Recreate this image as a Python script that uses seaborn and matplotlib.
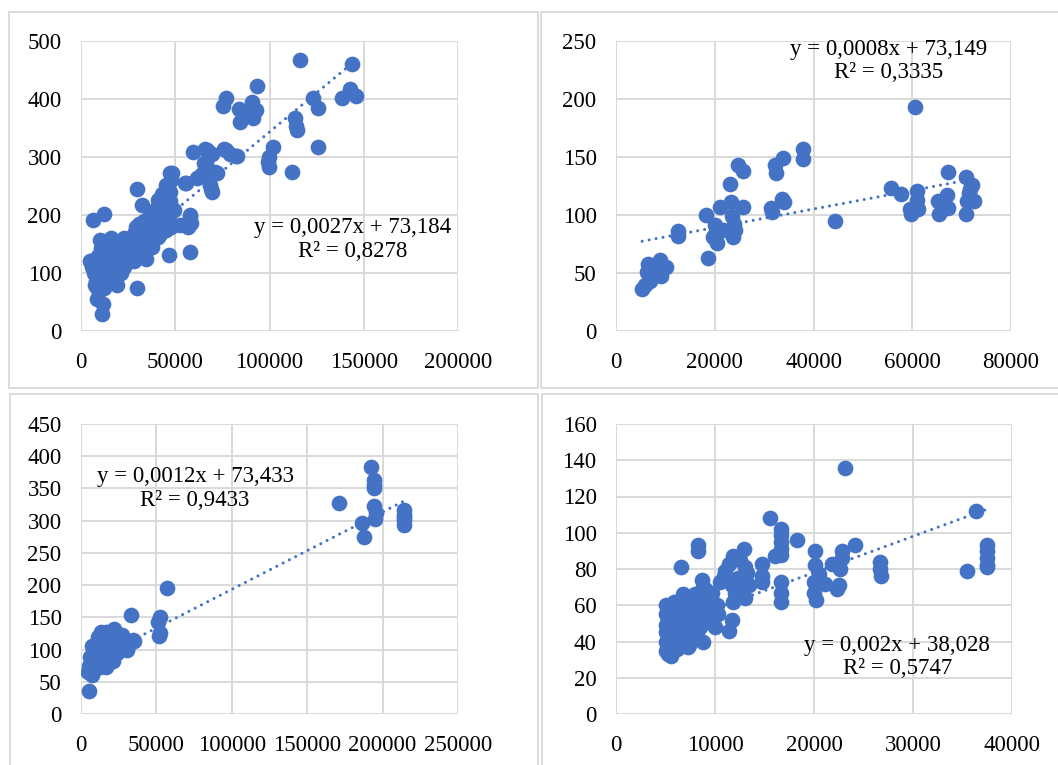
import numpy as np
import pandas as pd
import matplotlib
matplotlib.use("Agg")
import matplotlib.pyplot as plt
from matplotlib.patches import Rectangle
import seaborn as sns

sns.set_theme(style="white")
plt.rcParams['font.family'] = ['Liberation Serif', 'DejaVu Serif']

BLUE = "#4472C4"
GRID = "#D9D9D9"

# ---------------- Panel 1 ----------------
p1_x = [116100, 143800, 93300, 76700, 75400, 83800, 84300, 90500, 93100, 91400, 87800,
        142600, 146100, 138200, 123200, 125800, 113400, 114300, 114800, 125800, 111700,
        102000, 99800, 99800, 99300, 82900, 76900, 79000, 59500, 66600, 69300, 65200,
        64000, 61300, 71900, 68700, 69300, 55500, 48100, 57800, 58300, 57800, 46600,
        52500, 29500, 32200, 29500, 12200, 6500, 5300, 10100, 10400, 16300, 8300, 11800,
        11000, 18900, 65900, 75600, 82400, 66200, 71300, 62800, 68800, 55100, 47400,
        44900, 43200, 45700, 40600, 49100, 57700, 56900, 34600, 15900, 4800,
        8000, 9000, 9500, 10000, 10500, 11000, 11500, 12000, 12000, 12500, 13000, 13500,
        14000, 14000, 14500, 15000, 15500, 16000, 16000, 16500, 17000, 17500, 18000,
        18000, 18500, 19000, 19500, 20000, 20000, 20500, 21000, 21500, 22000, 22500,
        23000, 23000, 24000, 24500, 25000, 25500, 26000, 26500, 27000, 27500, 28000,
        28500, 29000, 29000, 30000, 30500, 31000, 31500, 32000, 32500, 33000, 33500,
        34000, 34500, 35000, 35500, 36000, 36500, 37000, 37500, 38000, 38500, 39000,
        40000, 40000, 41000, 41500, 42000, 42500, 43000, 43500, 44000, 44500, 45000,
        45500, 46000, 46500, 47000, 47500, 48000, 48000,
        6000, 7000, 7500, 8500, 9000, 10000, 12000, 13000,
        22000, 24000, 26000, 28000, 30000, 32000, 34000, 36000, 38000, 40000, 42000,
        44000, 46000, 25000, 29000, 33000, 37000, 41000, 45000, 17000, 19000, 21000,
        35000, 39000, 43000, 47000, 31000, 27000, 23000]
p1_y = [468, 460, 423, 401, 388, 383, 361, 395, 381, 367, 375,
        418, 406, 401, 401, 384, 367, 353, 346, 317, 274,
        318, 300, 283, 292, 302, 312, 306, 309, 312, 305, 289,
        271, 263, 272, 252, 239, 255, 272, 200, 187, 137, 131,
        182, 245, 217, 74, 202, 191, 120, 157, 143, 157, 56, 47,
        30, 79, 313, 313, 302, 289, 274, 265, 245, 255, 273,
        252, 237, 226, 226, 208, 197, 180, 125, 160, 120,
        95, 110, 85, 100, 120, 90, 105, 80, 130, 95, 115, 88,
        100, 125, 110, 92, 135, 105, 118, 85, 100, 128, 112,
        140, 95, 120, 105, 130, 145, 115, 100, 138, 125, 150,
        110, 160, 132, 145, 120, 155, 140, 128, 162, 148, 135,
        170, 155, 180, 142, 165, 185, 150, 172, 138, 160, 190,
        148, 175, 165, 185, 155, 200, 170, 145, 180, 195, 162,
        210, 175, 188, 220, 168, 200, 185, 230, 195, 240, 175,
        210, 250, 190, 225, 205, 260, 180,
        110, 100, 80, 75, 130, 70, 75, 140,
        118, 128, 150, 120, 158, 145, 168, 145, 160, 190, 185,
        175, 200, 138, 132, 178, 158, 162, 185, 112, 108, 122,
        140, 172, 210, 240, 160, 150, 140]

# ---------------- Panel 2 ----------------
p2_x = [5300, 5900, 6900, 6500, 6200, 6900, 8900, 9100, 10100, 8200, 12600, 12600,
        18200, 18700, 20000, 20000, 19700, 20400, 21100, 23100, 23300, 23400, 23800,
        23600, 24000, 24800, 25700, 25800, 21700, 31400, 31500, 32300, 32500, 33900,
        33700, 34100, 37900, 37900, 44300, 55700, 57700, 60500, 60900, 60900, 59700,
        61200, 59500, 65300, 65400, 67200, 67000, 67300, 66300, 70900, 70900, 72000,
        71400, 71000, 72600, 71700]
p2_y = [36, 40, 43, 58, 51, 50, 61, 47, 55, 55, 86, 82,
        100, 63, 91, 84, 81, 76, 107, 127, 111, 99, 92,
        81, 87, 143, 138, 107, 87, 106, 103, 143, 136, 149,
        114, 111, 157, 148, 95, 123, 118, 193, 121, 113, 101,
        105, 105, 112, 101, 137, 117, 106, 110, 133, 101, 126,
        119, 112, 112, 122]

# ---------------- Panel 3 ----------------
p3_x = [192500, 194300, 194300, 194300, 171200, 194300, 195000, 186600, 187700,
        214100, 214100, 214100, 214100, 214100, 195500,
        57100, 33000, 52200, 51100, 51800, 52200, 34600, 30200, 5500,
        13500, 22100, 27500, 35000, 30700, 7100, 6000, 4900, 7100, 16700, 21000,
        10300, 14600, 17800, 23200, 18900, 10300, 12400, 8100, 25300, 15700, 21000,
        11400, 16700, 9000, 12000, 19500, 26000, 5500, 8500, 14000, 24000]
p3_y = [384, 363, 355, 350, 328, 322, 303, 296, 275,
        316, 309, 301, 293, 306, 312,
        195, 154, 151, 143, 121, 125, 115, 99, 36,
        127, 132, 122, 114, 101, 106, 88, 65, 60, 73, 83,
        98, 109, 93, 104, 116, 83, 73, 78, 114, 83, 96,
        119, 127, 92, 110, 88, 110, 75, 68, 78, 95]

# ---------------- Panel 4 ----------------
p4_x = [23100, 36400, 15600, 16700, 16700, 16700, 16700, 16700, 16100, 18300, 20100,
        22800, 24100, 8300, 8300, 12900, 14700, 14700, 14700, 16700, 16700, 16700,
        6600, 20100, 20500, 20000, 20000, 20200, 21100, 21800, 22600, 22500, 22300,
        22800, 26700, 26700, 26800, 35500, 37500, 37500, 37500, 37500, 37500,
        11400, 11800, 13000, 10900, 11700, 12000, 11800, 13000, 12700, 13400, 11700,
        11400, 10200, 10000, 8700, 9000, 9700, 8800, 7000, 6600, 7300, 5600,
        5100, 5100, 5100, 5100, 5100, 5100, 5300,
        5500, 5500, 6000, 6000, 6000, 6500, 6500, 6500, 7000, 7000, 7000, 7500, 7500,
        7500, 8000, 8000, 8000, 8500, 8500, 8500, 9000, 9000, 9500, 9500, 9800, 9200,
        8800, 7800, 6200, 5800, 5300, 5300, 6800, 10500, 11000, 12300, 12500, 13200,
        5700, 6300, 6700, 7200, 7700, 8200, 5900, 6400, 6900, 7400, 5400, 9300, 10300]
p4_y = [136, 112, 108, 102, 99, 95, 91, 88, 87, 96, 90,
        90, 93, 93, 90, 91, 83, 76, 73, 73, 67, 62,
        81, 82, 77, 73, 67, 63, 72, 83, 80, 71, 69,
        86, 84, 80, 76, 79, 93, 90, 86, 82, 81,
        83, 87, 81, 76, 71, 67, 62, 64, 71, 71, 52,
        46, 60, 48, 74, 69, 67, 40, 64, 56, 37, 32,
        60, 55, 49, 45, 40, 35, 33,
        42, 50, 38, 47, 55, 43, 52, 60, 40, 48, 57, 45, 53,
        62, 50, 58, 66, 48, 55, 63, 52, 60, 55, 64, 58, 66,
        70, 44, 36, 58, 52, 38, 66, 73, 79, 75, 85, 78,
        45, 41, 49, 52, 41, 45, 62, 56, 44, 38, 56, 58, 55]

# trendline equations as printed on the chart
slopes = [0.0027, 0.0008, 0.0012, 0.002]
intercepts = [73.184, 73.149, 73.433, 38.028]
eq_texts = ["y = 0,0027x + 73,184\nR² = 0,8278",
            "y = 0,0008x + 73,149\nR² = 0,3335",
            "y = 0,0012x + 73,433\nR² = 0,9433",
            "y = 0,002x + 38,028\nR² = 0,5747"]
eq_pos = [(144300, 158), (55300, 233), (75600, 350), (28400, 31.4)]

x_ticks = [[0, 50000, 100000, 150000, 200000],
           [0, 20000, 40000, 60000, 80000],
           [0, 50000, 100000, 150000, 200000, 250000],
           [0, 10000, 20000, 30000, 40000]]
y_ticks = [[0, 100, 200, 300, 400, 500],
           [0, 50, 100, 150, 200, 250],
           [0, 50, 100, 150, 200, 250, 300, 350, 400, 450],
           [0, 20, 40, 60, 80, 100, 120, 140, 160]]

xs = [p1_x, p2_x, p3_x, p4_x]
ys = [p1_y, p2_y, p3_y, p4_y]

W, H = 1058, 765
fig = plt.figure(figsize=(W / 100, H / 100), dpi=100)

# panel frames (pixel coords: x0, y0_top, x1, y1_bottom)
frames = [(9, 12, 538, 388), (541, 12, 1070, 388), (10, 394, 538, 780), (542, 394, 1070, 780)]
for (x0, y0, x1, y1) in frames:
    fig.patches.append(Rectangle((x0 / W, 1 - y1 / H), (x1 - x0) / W, (y1 - y0) / H,
                                 transform=fig.transFigure, fill=False,
                                 edgecolor=GRID, linewidth=1.3))

# axes rectangles in pixel coords (left, top, right, bottom)
boxes = [(81, 41, 458, 331), (616, 41, 1011, 331), (81, 424, 458, 714), (616, 424, 1012, 714)]

for i in range(4):
    l, t, r, b = boxes[i]
    ax = fig.add_axes([l / W, 1 - b / H, (r - l) / W, (b - t) / H])
    df = pd.DataFrame({"x": xs[i], "y": ys[i]})
    sns.scatterplot(data=df, x="x", y="y", ax=ax, color=BLUE, s=128,
                    linewidth=0, alpha=1, zorder=3)
    xmin, xmax = min(xs[i]), max(xs[i])
    tx = np.array([xmin, xmax])
    ty = slopes[i] * tx + intercepts[i]
    ax.plot(tx, ty, color=BLUE, linewidth=2.2, dashes=(0.01, 2.3),
            dash_capstyle="round", zorder=4)
    ax.set_xlim(x_ticks[i][0], x_ticks[i][-1])
    ax.set_ylim(y_ticks[i][0], y_ticks[i][-1])
    ax.set_xticks(x_ticks[i])
    ax.set_yticks(y_ticks[i])
    ax.set_xticklabels([str(v) for v in x_ticks[i]])
    ax.set_yticklabels([str(v) for v in y_ticks[i]])
    ax.tick_params(axis="both", length=0, labelsize=16.5, colors="black")
    ax.tick_params(axis="y", pad=14)
    ax.tick_params(axis="x", pad=15)
    ax.grid(True, color=GRID, linewidth=1.4, zorder=0)
    ax.set_axisbelow(True)
    for sp in ax.spines.values():
        sp.set_visible(False)
    ax.set_xlabel("")
    ax.set_ylabel("")
    ax.text(eq_pos[i][0], eq_pos[i][1], eq_texts[i], ha="center", va="center",
            multialignment="center", fontsize=16.5, color="black",
            linespacing=1.15, zorder=5)

fig.savefig("out.png", dpi=100)
